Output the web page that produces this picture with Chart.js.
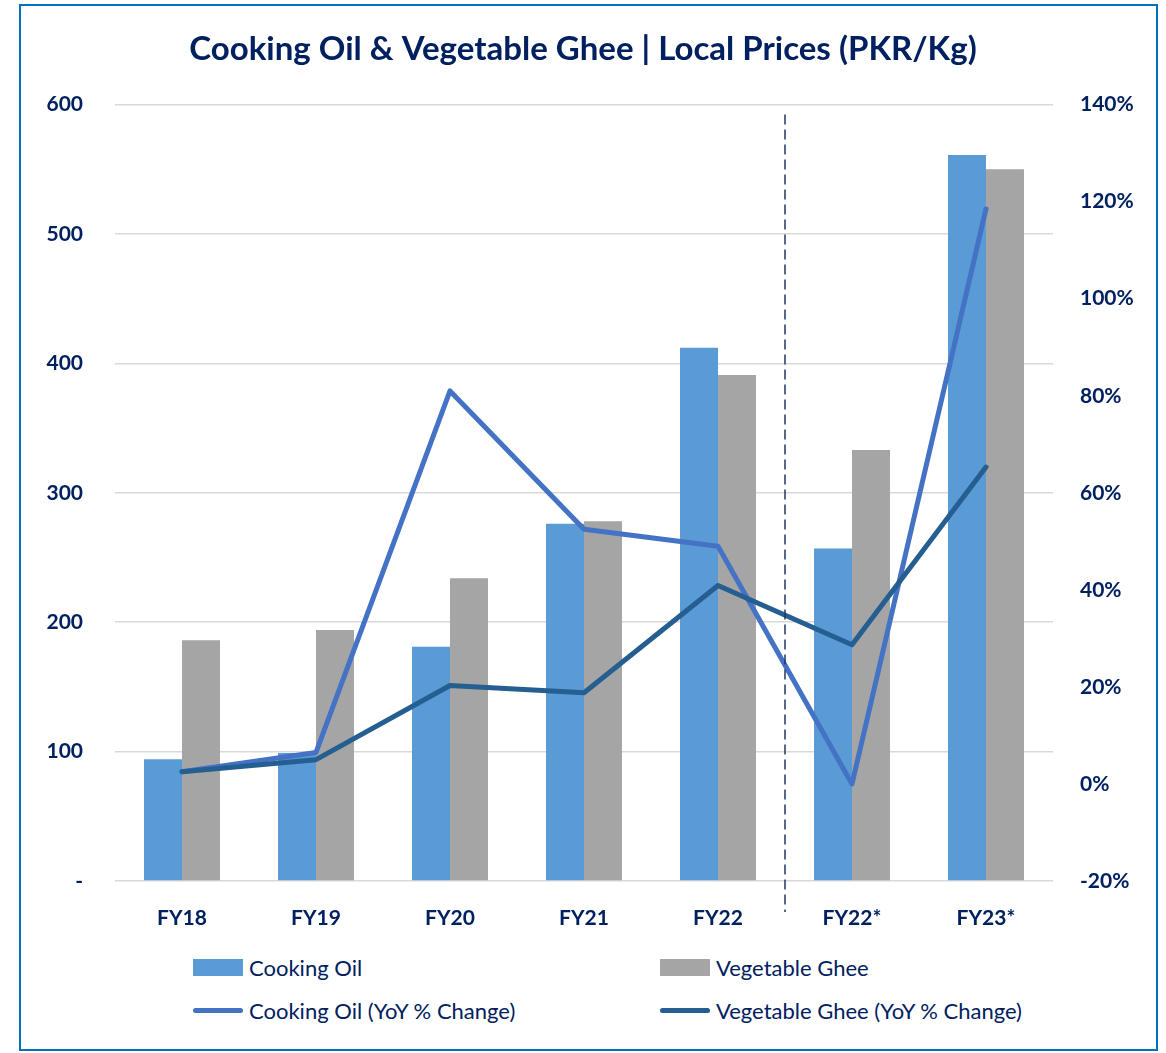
<!DOCTYPE html>
<html>
<head>
<meta charset="utf-8">
<script src="https://cdn.jsdelivr.net/npm/chart.js@4"></script>
<style>
  body { margin: 0; background: #fff; font-family: Lato, sans-serif; }
  #frame { position: absolute; left: 19px; top: 4px; width: 1135px; height: 1043px; border: 2px solid #0070c0; }
  #chartWrap { position: absolute; left: 0; top: 0; width: 1166px; height: 940px; }
  #legend { position: absolute; left: 0; top: 954px; width: 1166px; }
  .item { position: absolute; display: flex; align-items: center; font-size: 22px; color: #002060; white-space: nowrap; }
  .box { width: 50px; height: 17px; margin-right: 6px; }
  .line { width: 50px; height: 5px; border-radius: 3px; margin-right: 6px; }
</style>
</head>
<body>
<div id="frame"></div>
<div id="chartWrap"><canvas id="myChart" width="1166" height="940"></canvas></div>
<div id="legend"></div>
<script>
const years = ['FY18', 'FY19', 'FY20', 'FY21', 'FY22', 'FY22*', 'FY23*'];
const cookingOil = [94, 99, 181, 276, 412, 257, 561];
const vegGhee = [186, 194, 234, 278, 391, 333, 550];
const cookingOilYoY = [2.5, 6.5, 81, 52.5, 49, 0, 118.5];
const vegGheeYoY = [2.5, 5, 20.3, 18.8, 40.9, 28.7, 65.3];
const priceTicks = [0, 100, 200, 300, 400, 500, 600];
const pctTicks = [-20, 0, 20, 40, 60, 80, 100, 120, 140];

const navy = '#002060';
const fontName = 'Lato, sans-serif';

// dashed divider between actual and forecast years
const dividerPlugin = {
  id: 'divider',
  afterDatasetsDraw(chart) {
    const x = chart.scales.x;
    const xPos = (x.getPixelForValue(4) + x.getPixelForValue(5)) / 2;
    const ctx = chart.ctx;
    ctx.save();
    ctx.strokeStyle = '#1f3864';
    ctx.lineWidth = 1.5;
    ctx.setLineDash([10, 5]);
    ctx.beginPath();
    ctx.moveTo(xPos, chart.chartArea.top + 10);
    ctx.lineTo(xPos, chart.chartArea.bottom + 31);
    ctx.stroke();
    ctx.restore();
  }
};

const datasets = [
  {
    type: 'bar', label: 'Cooking Oil', data: cookingOil, yAxisID: 'y',
    backgroundColor: '#5b9bd5', order: 2,
    barPercentage: 1.0, categoryPercentage: 0.567
  },
  {
    type: 'bar', label: 'Vegetable Ghee', data: vegGhee, yAxisID: 'y',
    backgroundColor: '#a5a5a5', order: 2,
    barPercentage: 1.0, categoryPercentage: 0.567
  },
  {
    type: 'line', label: 'Cooking Oil (YoY % Change)', data: cookingOilYoY, yAxisID: 'y1',
    borderColor: '#4472c4', backgroundColor: '#4472c4', borderWidth: 5,
    pointRadius: 0, tension: 0, borderCapStyle: 'round', borderJoinStyle: 'round', order: 1
  },
  {
    type: 'line', label: 'Vegetable Ghee (YoY % Change)', data: vegGheeYoY, yAxisID: 'y1',
    borderColor: '#255e91', backgroundColor: '#255e91', borderWidth: 5,
    pointRadius: 0, tension: 0, borderCapStyle: 'round', borderJoinStyle: 'round', order: 0
  }
];

const ctx = document.getElementById('myChart').getContext('2d');
const myChart = new Chart(ctx, {
  data: { labels: years, datasets: datasets },
  plugins: [dividerPlugin],
  options: {
    responsive: false,
    animation: false,
    layout: { padding: { top: 8, left: 0, right: 0, bottom: 0 } },
    plugins: {
      legend: { display: false },
      tooltip: { enabled: false },
      title: {
        display: true,
        text: 'Cooking Oil & Vegetable Ghee | Local Prices (PKR/Kg)',
        color: navy,
        font: { family: fontName, size: 33, weight: 'bold' },
        padding: { top: 22, bottom: 35 }
      }
    },
    scales: {
      x: {
        grid: { display: false },
        border: { display: false },
        ticks: { color: navy, font: { family: fontName, size: 21, weight: 'bold' }, padding: 17 },
        afterFit(scale) { scale.height = 59; }
      },
      y: {
        position: 'left',
        min: 0, max: 600,
        afterBuildTicks(scale) { scale.ticks = priceTicks.map(v => ({ value: v })); },
        grid: { color: '#d9d9d9', lineWidth: 1.5, drawTicks: false },
        border: { display: false },
        ticks: {
          color: navy, font: { family: fontName, size: 21, weight: 'bold' }, padding: 32,
          callback: (v) => v === 0 ? '-' : v
        },
        afterFit(scale) { scale.width = 115; }
      },
      y1: {
        position: 'right',
        min: -20, max: 140,
        afterBuildTicks(scale) { scale.ticks = pctTicks.map(v => ({ value: v })); },
        grid: { display: false, drawTicks: false },
        border: { display: false },
        ticks: {
          color: navy, font: { family: fontName, size: 21, weight: 'bold' }, padding: 27,
          callback: (v) => v + '%'
        },
        afterFit(scale) { scale.width = 113; }
      }
    }
  }
});

// legend laid out in two columns like the original
const legendEl = document.getElementById('legend');
const legendPos = [
  { left: 193, top: 0 }, { left: 660, top: 0 },
  { left: 193, top: 43 }, { left: 660, top: 43 }
];
datasets.forEach((ds, i) => {
  const item = document.createElement('div');
  item.className = 'item';
  item.style.left = legendPos[i].left + 'px';
  item.style.top = legendPos[i].top + 'px';
  const mark = document.createElement('span');
  mark.className = ds.type === 'bar' ? 'box' : 'line';
  mark.style.background = ds.type === 'bar' ? ds.backgroundColor : ds.borderColor;
  const text = document.createElement('span');
  text.textContent = ds.label;
  item.appendChild(mark);
  item.appendChild(text);
  legendEl.appendChild(item);
});
</script>
</body>
</html>
